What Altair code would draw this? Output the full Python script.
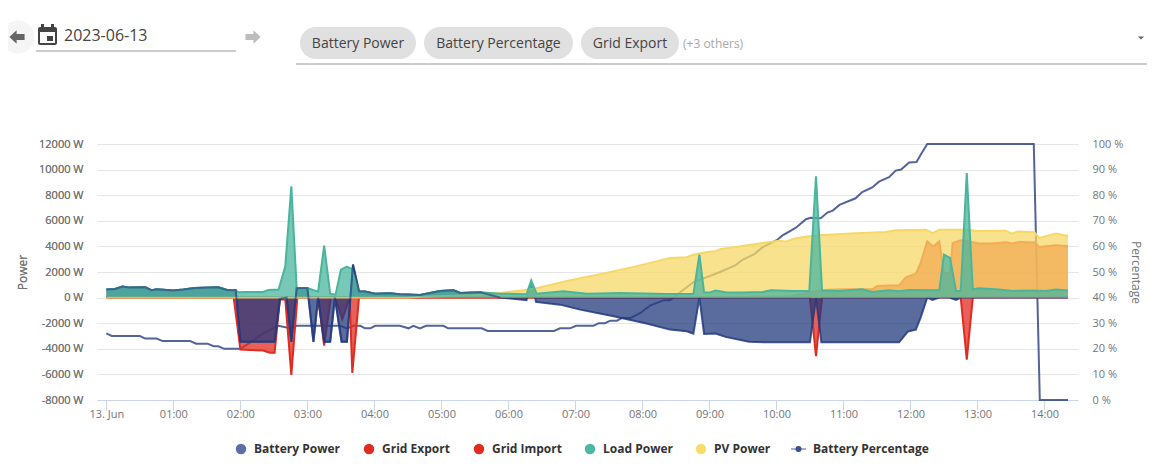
import altair as alt
import pandas as pd

# ---- data (hours since midnight, watts / percent) ----
load_t = [0, .13, .24, .34, .58, .68, .75, 1.0, 1.15, 1.32, 1.67, 1.80, 1.93, 1.97, 2.09, 2.34, 2.42, 2.57, 2.67, 2.76,
          2.84, 2.94, 3.01, 3.16, 3.25, 3.34, 3.42, 3.50, 3.59, 3.66, 3.77, 3.86, 4.01, 4.23, 4.38, 4.68, 4.98, 5.18,
          5.28, 5.58, 5.88, 6.27, 6.34, 6.42, 6.82, 7.17, 7.67, 8.36, 8.76, 8.85, 8.92, 9.0, 9.09, 9.24, 9.49, 9.79,
          9.92, 10.24, 10.49, 10.59, 10.68, 10.94, 11.28, 11.43, 11.68, 11.83, 11.98, 12.43, 12.50, 12.59, 12.68,
          12.75, 12.84, 12.93, 13.02, 13.32, 13.52, 13.82, 14.02, 14.17, 14.35]
load_v = [625, 680, 860, 780, 800, 570, 650, 550, 625, 755, 800, 600, 570, 416, 440, 440, 600, 625, 2450, 8700,
          730, 680, 730, 470, 4060, 310, 230, 2190, 2420, 2240, 470, 470, 310, 340, 260, 210, 520, 570,
          365, 415, 310, 260, 1350, 310, 495, 310, 365, 285, 285, 3360, 415, 390, 550, 415, 390, 440,
          570, 520, 520, 9480, 550, 520, 650, 440, 570, 495, 600, 570, 3360, 3100, 520,
          520, 9740, 625, 730, 625, 520, 550, 520, 625, 550]

pv_t = [0, 4.5, 4.7, 5.5, 5.88, 6.22, 6.42, 6.87, 7.37, 7.87, 8.41, 8.66, 8.76, 8.96, 9.09, 9.17, 9.39, 9.79, 10.04,
        10.14, 10.29, 10.49, 10.69, 11.18, 11.63, 11.78, 12.23, 12.33, 12.43, 12.83, 13.0, 13.42, 13.51, 13.6,
        13.85, 13.92, 14.17, 14.35]
pv_v = [0, 0, 60, 200, 365, 570, 730, 1300, 1820, 2400, 3100, 3150, 3360, 3570, 3620, 3800, 3960, 4270, 4450,
        4375, 4635, 4790, 4900, 5030, 5130, 5260, 5310, 5030, 5310, 5310, 5210, 5230, 5000, 5160,
        5100, 4660, 5000, 4820]

export_t = [0, 8.85, 10.2, 10.69, 11.0, 11.43, 11.5, 11.83, 11.93, 12.08, 12.15, 12.25, 12.34, 12.43, 12.5, 12.59,
            12.63, 12.75, 12.93, 13.02, 13.22, 13.42, 13.52, 13.62, 13.85, 13.92, 14.17, 14.35]
export_v = [0, 0, 100, 600, 650, 650, 900, 960, 1590, 1875, 2700, 4400, 4000, 4400, 1900, 1900,
            4270, 4480, 4320, 4220, 4220, 4320, 4220, 4350, 4300, 3960, 4090, 4040]

import_t = [0, 1.90, 2.0, 2.34, 2.44, 2.51, 2.59, 2.67, 2.76, 2.85, 3.16, 3.25, 3.35, 3.42, 3.52, 3.63, 3.67, 3.77,
            10.5, 10.59, 10.68, 12.75, 12.84, 12.93, 14.35]
import_v = [0, 0, -4060, -4140, -4300, -4300, -150, -150, -6040, 0, 0, -3750, 0, 0, -1700, 0, -5880, 0,
            0, -4580, 0, 0, -4840, 0, 0]

battery_t = [0, .13, .24, .34, .58, .68, .75, 1.0, 1.15, 1.32, 1.67, 1.80, 1.93, 2.0, 2.51, 2.59, 2.69, 2.76, 2.84,
             3.0, 3.09, 3.16, 3.25, 3.34, 3.41, 3.51, 3.59, 3.68, 3.77, 3.86, 4.01, 4.23, 4.38, 4.68, 4.98, 5.18,
             5.28, 5.58, 5.88, 6.27, 6.28, 6.34, 6.40, 6.41, 6.77, 7.07, 7.57, 8.06, 8.41, 8.66, 8.76, 8.85, 8.92,
             9.09, 9.24, 9.59, 9.84, 10.5, 10.59, 10.67, 11.83, 11.96, 12.08, 12.15, 12.25, 12.33, 12.43, 12.58,
             12.68, 12.75, 14.35]
battery_v = [625, 680, 860, 780, 800, 570, 650, 550, 625, 755, 800, 600, 570, -3440, -3440, -100, 0, -3460, 730,
             730, -3460, 0, -3440, -3440, 0, -3440, -3440, 2580, 500, 470, 310, 340, 260, 210, 520, 570,
             365, 415, 0, -200, 0, 885, 0, -340, -550, -940, -1460, -2030, -2500, -2630, -2810, 0, -2840,
             -2810, -3070, -3440, -3490, -3490, 0, -3490, -3490, -2660, -2500, -1590, 0, -180, 0, 0,
             -180, 0, 0]

percent_t = [0, .08, .5, .58, .75, .84, 1.25, 1.34, 1.51, 1.6, 1.67, 1.76, 2.0, 2.12, 2.34, 2.57, 2.74, 2.84, 3.49,
             3.59, 3.69, 3.79, 3.86, 3.94, 4.01, 4.38, 4.51, 4.58, 4.68, 4.77, 5.03, 5.1, 5.6, 5.69, 6.68, 6.77,
             6.92, 7.01, 7.27, 7.35, 7.44, 7.52, 7.62, 7.69, 7.82, 7.97, 8.12, 8.32, 8.41, 8.56, 8.76, 8.96, 9.16,
             9.39, 9.49, 9.67, 9.79, 10.01, 10.09, 10.19, 10.29, 10.44, 10.51, 10.66, 10.76, 10.84, 10.94, 11.18,
             11.28, 11.43, 11.53, 11.68, 11.78, 11.86, 11.98, 12.09, 12.15, 12.25, 13.84, 13.93, 14.35]
percent_v = [26, 25, 25, 24, 24, 23, 23, 22, 22, 21, 21, 20, 20, 22, 26, 29, 28, 29, 29,
             28, 29, 29, 28, 28, 29, 29, 28, 29, 28, 29, 29, 28, 28, 27, 27, 28,
             28, 29, 29, 30, 30, 31, 31, 32, 32, 34, 37, 39, 39, 42, 46, 48, 50,
             52.7, 54.7, 57, 59.6, 62.5, 64.3, 65.8, 67.3, 70.6, 71.2, 71, 73.2, 74, 76.2, 78.8,
             81.2, 83, 85.3, 87, 89.6, 90, 92.8, 93, 95.7, 100, 100, 0, 0]

hour_ticks = list(range(15))
power_ticks = list(range(-8000, 12001, 2000))
percent_ticks = list(range(0, 101, 10))
chips = ["Battery Power", "Battery Percentage", "Grid Export"]
legend_names = ["Battery Power", "Grid Export", "Grid Import", "Load Power", "PV Power", "Battery Percentage"]

BLUE, RED, GREEN, YELLOW = "#23397d", "#e02b20", "#49b59d", "#f7d867"
FONT = "Open Sans"
GRID, AXIS_LINE, MUTED = "#e6e6e6", "#ccd6eb", "#757575"

X0, Y0 = 97, 144        # page position of the plot area
WIDTH, HEIGHT = 981, 256

x_scale = alt.Scale(domain=[-0.14, 14.5], nice=False, zero=False)
power_scale = alt.Scale(domain=[-8000, 12000], nice=False, zero=False)
x_axis = alt.Axis(values=hour_ticks, grid=False, title=None, tickColor=AXIS_LINE, domainColor=AXIS_LINE, tickSize=10,
                  labelColor=MUTED, labelFont=FONT, labelFontSize=11, labelPadding=-2, labelFlush=False,
                  labelOverlap=False, labelExpr="datum.value==0?'13. Jun':(datum.value<10?'0':'')+datum.value+':00'")
power_axis = alt.Axis(values=power_ticks, orient="left", title="Power", titleFont=FONT, titleFontSize=12,
                      titleFontWeight="normal", titleColor=MUTED, titlePadding=9, grid=True, gridColor=GRID,
                      domain=False, ticks=False, labelColor=MUTED, labelFont=FONT, labelFontSize=11, labelPadding=14,
                      labelExpr="datum.value+' W'")
percent_axis = alt.Axis(values=percent_ticks, orient="right", title="Percentage", titleFont=FONT, titleFontSize=12,
                        titleFontWeight="normal", titleColor=MUTED, titleAngle=90, titlePadding=6, grid=False,
                        domain=False, ticks=False, labelColor=MUTED, labelFont=FONT, labelFontSize=11, labelPadding=14,
                        labelExpr="datum.value+' %'")


def area(ts, vs, color, axis=None, line_opacity=1.0):
    df = pd.DataFrame({"t": ts, "v": vs})
    y = alt.Y("v:Q", scale=power_scale, axis=axis, stack=None)
    x = alt.X("t:Q", scale=x_scale, axis=x_axis)
    fill = alt.Chart(df).mark_area(color=color, opacity=0.75, interpolate="linear").encode(x=x, y=y)
    edge = alt.Chart(df).mark_line(color=color, strokeWidth=2, opacity=line_opacity, interpolate="linear").encode(x=x, y=y)
    return [fill, edge]


pct_df = pd.DataFrame({"t": percent_t, "v": percent_v})
percent_line = alt.Chart(pct_df).mark_line(color=BLUE, strokeWidth=2, opacity=0.78, interpolate="linear").encode(
    x=alt.X("t:Q", scale=x_scale, axis=x_axis),
    y=alt.Y("v:Q", scale=alt.Scale(domain=[0, 100], nice=False), axis=percent_axis),
)

# the battery outline shows through on top of the load area before sunrise
battery_edge_top = (
    alt.Chart(pd.DataFrame({"t": battery_t, "v": battery_v}))
    .transform_filter("datum.t <= 5.88")
    .mark_line(color=BLUE, strokeWidth=2, opacity=0.6, interpolate="linear")
    .encode(x=alt.X("t:Q", scale=x_scale, axis=x_axis),
            y=alt.Y("v:Q", scale=power_scale, axis=None, stack=None))
)

blank = alt.Data(values=[{}])


def vx(px):
    return alt.value(px - X0)


def vy(py):
    return alt.value(py - Y0)


def text(s, x, y, **kw):
    return alt.Chart(blank).mark_text(text=s, font=FONT, baseline="middle", **kw).encode(x=vx(x), y=vy(y))


def box(x1, x2, y1, y2, color, radius=0):
    return alt.Chart(blank).mark_rect(color=color, cornerRadius=radius).encode(
        x=vx(x1), x2=vx(x2), y=vy(y1), y2=vy(y2))


def rule(x1, x2, y, color):
    return alt.Chart(blank).mark_rule(color=color, strokeWidth=1).encode(x=vx(x1), x2=vx(x2), y=vy(y))


def glyph(path, x, y, size, color):
    return alt.Chart(blank).mark_point(shape=path, size=size, filled=True, color=color, opacity=1).encode(
        x=vx(x), y=vy(y))


ARROW_L = "M-1 0 L-0.05 -0.9 L-0.05 -0.4 L1 -0.4 L1 0.4 L-0.05 0.4 L-0.05 0.9 Z"
ARROW_R = "M1 0 L0.05 -0.9 L0.05 -0.4 L-1 -0.4 L-1 0.4 L0.05 0.4 L0.05 0.9 Z"
CARET = "M-1 -0.5 L1 -0.5 L0 0.5 Z"

header = [
    glyph("circle", 18, 37, 1100, "#f5f5f5"),
    glyph(ARROW_L, 17, 37, 230, "#666666"),
    glyph(ARROW_R, 253, 37, 230, "#bdbdbd"),
    box(38, 57, 27, 45, "#444444", 2),
    box(41, 44, 24, 28, "#444444"),
    box(51, 54, 24, 28, "#444444"),
    box(40, 55, 32, 43, "#ffffff"),
    box(47, 53, 36, 41, "#444444"),
    text("2023-06-13", 64, 36, fontSize=16, color="#444444", align="left"),
    rule(36, 236, 51, "#999999"),
    rule(296, 1147, 64, "#999999"),
    glyph(CARET, 1141, 38, 40, "#666666"),
    text("(+3 others)", 683, 44, fontSize=12, color="#a8a8a8", align="left"),
]
chip_spans = [(300, 416), (424, 573), (581, 679)]
for name, (a, b) in zip(chips, chip_spans):
    header.append(box(a, b, 27, 59, "#e0e0e0", 16))
    header.append(text(name, (a + b) / 2, 44, fontSize=14, color="#444444", align="center"))

legend_colors = ["#5b6fa5", RED, RED, "#4cb8a4", "#f9dc6b"]
legend_dot_x = [241, 369, 479, 590, 701]
legend_text_x = [254, 382, 492, 603, 714, 813]
legend = []
for color, dx in zip(legend_colors, legend_dot_x):
    legend.append(glyph("circle", dx, 449, 110, color))
legend.append(rule(791, 806, 449, "#4a5c95"))
legend.append(glyph("circle", 798.5, 449, 36, "#3d4f8c"))
for name, tx in zip(legend_names, legend_text_x):
    legend.append(text(name, tx, 449, fontSize=12, fontWeight="bold", color="#333333", align="left"))

layers = (
    [percent_line]
    + area(import_t, import_v, RED, axis=power_axis)
    + area(export_t, export_v, RED)
    + area(battery_t, battery_v, BLUE, line_opacity=0.85)
    + area(pv_t, pv_v, YELLOW)
    + area(load_t, load_v, GREEN)
    + [battery_edge_top]
    + header
    + legend
)

chart = (
    alt.layer(*layers)
    .resolve_scale(y="independent")
    .properties(
        width=WIDTH,
        height=HEIGHT,
        padding={"left": X0 - 8, "top": Y0 - 8, "right": 69, "bottom": 65},
        autosize=alt.AutoSizeParams(type="none"),
        background="white",
    )
    .configure_view(stroke=None)
)

chart.save("out.html", embed_options={"renderer": "svg", "actions": False})
